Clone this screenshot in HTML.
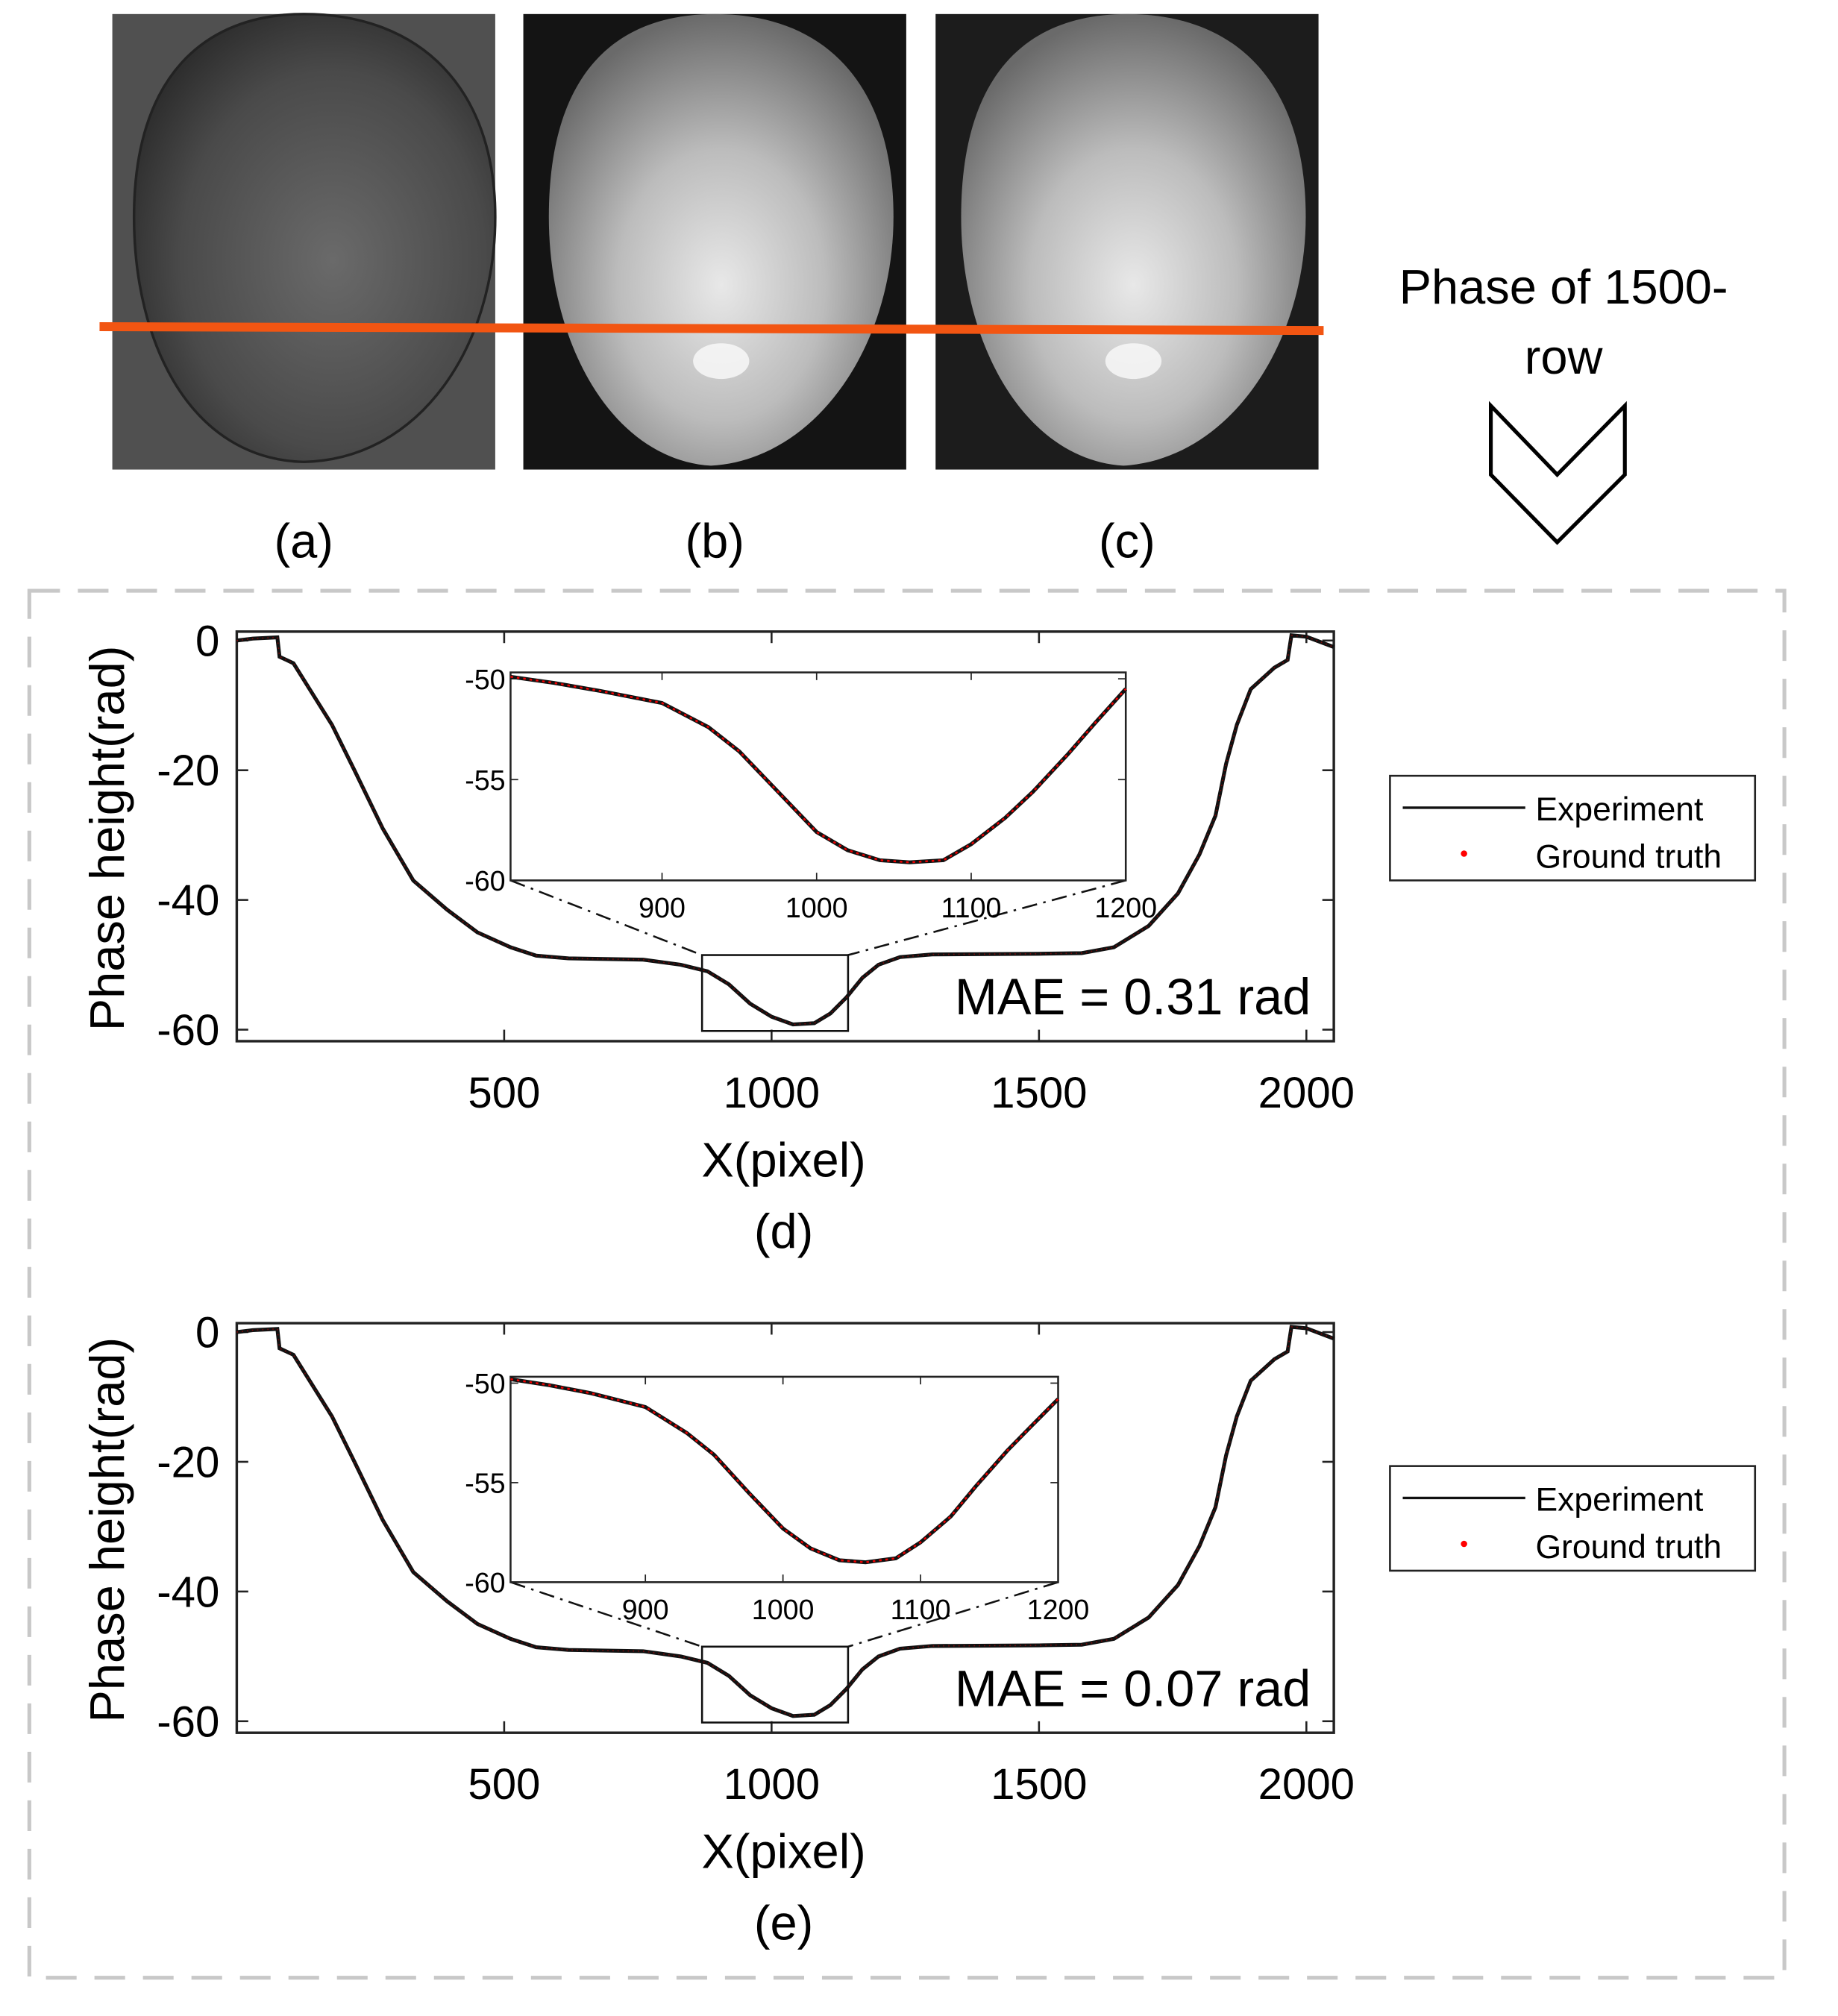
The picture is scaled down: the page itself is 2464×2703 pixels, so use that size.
<!DOCTYPE html>
<html><head><meta charset="utf-8"><style>
html,body{margin:0;padding:0;background:#fff}
svg{display:block}
text{font-family:"Liberation Sans",sans-serif}
</style></head><body>
<svg id="fig" width="2464" height="2703" viewBox="0 0 1440 1580" preserveAspectRatio="none" xmlns="http://www.w3.org/2000/svg">
<defs>
<radialGradient id="gA" cx="0.55" cy="0.55" r="0.6"><stop offset="0" stop-color="#6a6a6a"/><stop offset="0.7" stop-color="#4a4a4a"/><stop offset="1" stop-color="#2e2e2e"/></radialGradient>
<radialGradient id="gB" cx="0.5" cy="0.6" r="0.6"><stop offset="0" stop-color="#e8e8e8"/><stop offset="0.5" stop-color="#bcbcbc"/><stop offset="1" stop-color="#6a6a6a"/></radialGradient>
</defs>
<g>
<rect x="88" y="11" width="300" height="357" fill="#505050"/>
<path d="M238,11 C330,11 388,70 388,170 C388,270 330,360 238,362 C150,360 105,270 105,170 C105,60 160,11 238,11Z" fill="url(#gA)" stroke="#222" stroke-width="2"/>
</g>
<g>
<rect x="410" y="11" width="300" height="357" fill="#141414"/>
<path d="M560,11 C650,11 700,70 700,170 C700,270 640,360 557,365 C480,360 430,270 430,170 C430,60 480,11 560,11Z" fill="url(#gB)"/>
<ellipse cx="565" cy="283" rx="22" ry="14" fill="#fafafa" opacity="0.8"/>
</g>
<g>
<rect x="733" y="11" width="300" height="357" fill="#1c1c1c"/>
<path d="M883,11 C973,11 1023,70 1023,170 C1023,270 963,360 880,365 C803,360 753,270 753,170 C753,60 803,11 883,11Z" fill="url(#gB)"/>
<ellipse cx="888" cy="283" rx="22" ry="14" fill="#fafafa" opacity="0.8"/>
</g>
<line x1="78" y1="256" x2="1037" y2="259" stroke="#f25512" stroke-width="7"/>
<text x="238" y="437" font-size="38" text-anchor="middle">(a)</text>
<text x="560" y="437" font-size="38" text-anchor="middle">(b)</text>
<text x="883" y="437" font-size="38" text-anchor="middle">(c)</text>
<text font-size="38" text-anchor="middle"><tspan x="1225" y="238">Phase of 1500-</tspan><tspan x="1225" y="293">row</tspan></text>
<path d="M1168,318 L1220,372 L1273,318 L1273,372 L1220,425 L1168,372Z" fill="none" stroke="#000" stroke-width="3"/>
<rect x="23" y="463" width="1375" height="1087" fill="none" stroke="#c8c8c8" stroke-width="3" stroke-dasharray="24,14"/>
<g id="chartD"></g>
<g id="chartE"></g>
</svg>
<script>
const mainX=[0,30,76,80,106,140,178,220,273,330,393,450,512,560,620,760,830,880,920,960,1000,1040,1080,1110,1140,1170,1200,1240,1300,1500,1580,1640,1705,1760,1800,1830,1850,1870,1896,1940,1965,1972,2000,2051];
const mainY=[0,0.3,0.5,-2.5,-3.5,-8,-13,-20,-29,-37,-41.5,-45,-47.3,-48.6,-49,-49.2,-50,-51,-53,-56,-58,-59.2,-59,-57.5,-55,-52,-50,-48.8,-48.4,-48.3,-48.2,-47.3,-44,-39,-33,-27,-19,-13,-7.5,-4.2,-3,0.8,0.6,-1];
const insetX=[802,830,860,900,930,950,975,1000,1020,1041,1060,1082,1100,1122,1140,1163,1180,1200];
const insetYd=[-49.9,-50.2,-50.6,-51.2,-52.4,-53.6,-55.6,-57.6,-58.5,-59.0,-59.1,-59.0,-58.2,-56.9,-55.6,-53.7,-52.2,-50.5];
const insetYe=[-49.8,-50.1,-50.5,-51.2,-52.5,-53.6,-55.5,-57.3,-58.3,-58.9,-59.0,-58.8,-58.0,-56.7,-55.2,-53.4,-52.2,-50.8];
const mainXTicks=[500,1000,1500,2000];
const mainYTicks=[0,-20,-40,-60];
const insetXTicks=[900,1000,1100,1200];
const insetYTicks=[-50,-55,-60];
const maeLabels=["MAE = 0.31 rad","MAE = 0.07 rad"];
const NS="http://www.w3.org/2000/svg";
function mk(parent,tag,attrs,txt){const e=document.createElementNS(NS,tag);for(const k in attrs)e.setAttribute(k,attrs[k]);if(txt!==undefined)e.textContent=txt;parent.appendChild(e);return e;}
function pathFrom(xs,ys,sx,sy){let d='';for(let i=0;i<xs.length;i++)d+=(i?'L':'M')+sx(xs[i]).toFixed(1)+','+sy(ys[i]).toFixed(1);return d;}
function drawChart(g,top,inset,insetY,mae,sub){
  const L=185.5,R=1045,T=top-7,B=top+314;
  const sx=v=>L+v*0.419, sy=v=>top-v*5.083;
  let e;
  e=mk(g,'rect',{x:L,y:T,width:R-L,height:B-T,fill:'none',stroke:'#222','stroke-width':2});
  
  mainXTicks.forEach(t=>{const x=sx(t);
    e=mk(g,'line',{x1:x,y1:B,x2:x,y2:B-9,stroke:'#222','stroke-width':1.5});
    e=mk(g,'line',{x1:x,y1:T,x2:x,y2:T+9,stroke:'#222','stroke-width':1.5});
    e=mk(g,'text',{x:x,y:B+52,'font-size':34,'text-anchor':'middle'},String(t));});
  mainYTicks.forEach(t=>{const y=sy(t);
    e=mk(g,'line',{x1:L,y1:y,x2:L+9,y2:y,stroke:'#222','stroke-width':1.5});
    e=mk(g,'line',{x1:R,y1:y,x2:R-9,y2:y,stroke:'#222','stroke-width':1.5});
    e=mk(g,'text',{x:172,y:y+12,'font-size':34,'text-anchor':'end'},String(t));});
  e=mk(g,'path',{d:pathFrom(mainX,mainY,sx,sy),fill:'none',stroke:'#111','stroke-width':3});
  e=mk(g,'path',{d:pathFrom(mainX,mainY,sx,sy),fill:'none',stroke:'#d00','stroke-width':1,'stroke-dasharray':'1,3',opacity:0.5});
  // zoom rect
  const zx1=sx(870),zx2=sx(1143),zy1=sy(-48.5),zy2=sy(-60.2);
  e=mk(g,'rect',{x:zx1,y:zy1,width:zx2-zx1,height:zy2-zy1,fill:'none',stroke:'#111','stroke-width':1.5});
  // inset
  const iL=400,iR=inset.r,iT=inset.t,iB=inset.b;
  const isx=v=>iL+(v-802)*(iR-iL)/398, isy=v=>iT+5+(-50-v)*(iB-iT-5)/10;
  e=mk(g,'line',{x1:iL,y1:iB,x2:zx1,y2:zy1,stroke:'#111','stroke-width':1.5,'stroke-dasharray':'12,5,2,5'});
  e=mk(g,'line',{x1:iR,y1:iB,x2:zx2,y2:zy1,stroke:'#111','stroke-width':1.5,'stroke-dasharray':'12,5,2,5'});
  const ig=mk(g,'g',{});
  e=mk(ig,'rect',{x:iL,y:iT,width:iR-iL,height:iB-iT,fill:'#fff',stroke:'#222','stroke-width':1.5});
  insetXTicks.forEach(t=>{const x=isx(t);
    e=mk(ig,'line',{x1:x,y1:iB,x2:x,y2:iB-6,stroke:'#222'});
    e=mk(ig,'line',{x1:x,y1:iT,x2:x,y2:iT+6,stroke:'#222'});
    e=mk(ig,'text',{x:x,y:iB+29,'font-size':22,'text-anchor':'middle'},String(t));});
  insetYTicks.forEach(t=>{const y=isy(t);
    e=mk(ig,'line',{x1:iL,y1:y,x2:iL+6,y2:y,stroke:'#222'});
    e=mk(ig,'line',{x1:iR,y1:y,x2:iR-6,y2:y,stroke:'#222'});
    e=mk(ig,'text',{x:iL-4,y:y+8,'font-size':22,'text-anchor':'end'},String(t));});
  e=mk(ig,'path',{d:pathFrom(insetX,insetY,isx,isy),fill:'none',stroke:'#111','stroke-width':3});
  e=mk(ig,'path',{d:pathFrom(insetX,insetY,isx,isy),fill:'none',stroke:'#e00','stroke-width':1.5,'stroke-dasharray':'2,3'});
  e=mk(g,'text',{x:1027,y:top+293,'font-size':40,'text-anchor':'end'},mae);
  e=mk(g,'text',{x:0,y:0,'font-size':38,'text-anchor':'middle',transform:'translate(97,'+(top+155)+') rotate(-90)'},'Phase height(rad)');
  e=mk(g,'text',{x:614,y:top+420,'font-size':38,'text-anchor':'middle'},'X(pixel)');
  e=mk(g,'text',{x:614,y:top+476,'font-size':38,'text-anchor':'middle'},sub);
  // legend
  const lt=inset.lt;
  const lg=mk(g,'g',{});
  e=mk(lg,'rect',{x:1089,y:lt,width:286,height:82,fill:'#fff',stroke:'#222','stroke-width':1.5});
  e=mk(lg,'line',{x1:1099,y1:lt+25,x2:1195,y2:lt+25,stroke:'#111','stroke-width':2});
  e=mk(lg,'text',{x:1203,y:lt+35,'font-size':26},'Experiment');
  e=mk(lg,'circle',{cx:1147,cy:lt+61,r:2.5,fill:'#f00'});
  e=mk(lg,'text',{x:1203,y:lt+72,'font-size':26},'Ground truth');
}
drawChart(document.getElementById('chartD'),502,{r:882,t:527,b:690,lt:608},insetYd,maeLabels[0],'(d)');
drawChart(document.getElementById('chartE'),1044,{r:829,t:1079,b:1240,lt:1149},insetYe,maeLabels[1],'(e)');
</script>
</body></html>
